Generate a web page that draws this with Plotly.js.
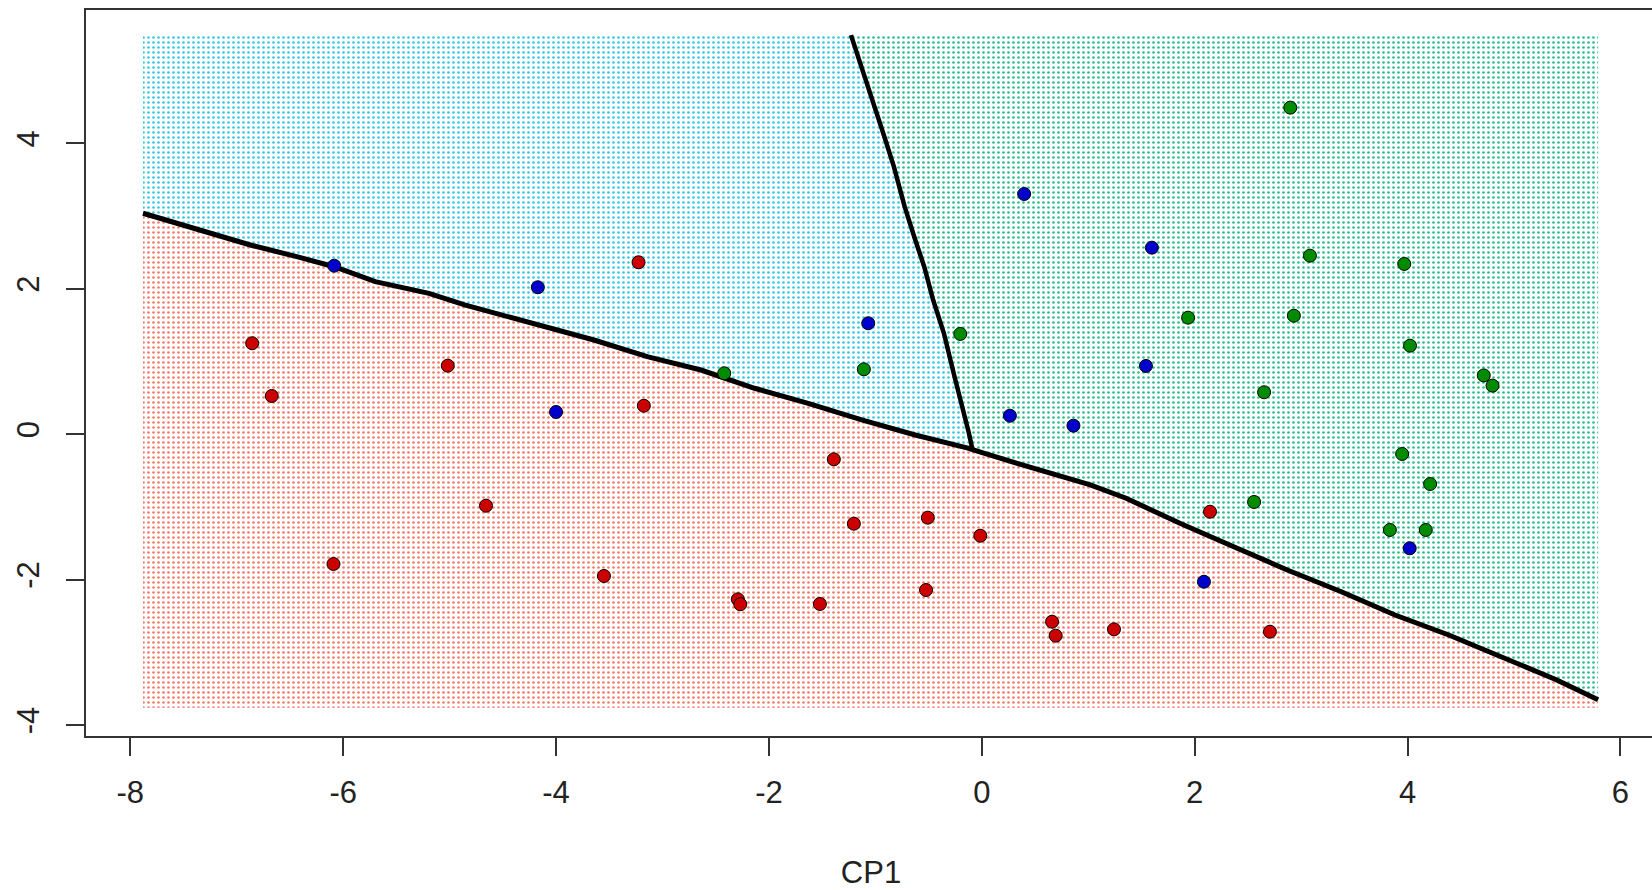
<!DOCTYPE html>
<html>
<head>
<meta charset="utf-8">
<script src="https://cdn.plot.ly/plotly-3.0.1.min.js"></script>
<style>
html,body{margin:0;padding:0;overflow:hidden;background:#ffffff;}
#chart{width:1700px;height:890px;}
</style>
</head>
<body>
<div id="chart"></div>
<script>
// ---- training points (CP1, CP2) per class ----
const redX = [-6.855, -6.671, -6.091, -5.017, -4.658, -3.550, -3.225, -3.175, -2.292, -2.269, -1.521, -1.390, -1.202, -0.524, -0.507, -0.014, 0.660, 0.694, 1.242, 2.144, 2.707];
const redY = [1.252, 0.527, -1.784, 0.944, -0.982, -1.949, 2.366, 0.393, -2.270, -2.338, -2.334, -0.344, -1.230, -2.142, -1.147, -1.395, -2.578, -2.770, -2.683, -1.065, -2.715];

const blueX = [-6.084, -4.171, -4.000, -1.067, 0.264, 0.398, 0.861, 1.542, 1.598, 2.087, 4.020];
const blueY = [2.319, 2.022, 0.307, 1.527, 0.256, 3.305, 0.118, 0.940, 2.567, -2.028, -1.568];

const greenX = [-2.420, -1.108, -0.202, 1.938, 2.558, 2.652, 2.898, 2.932, 3.083, 3.834, 3.969, 3.949, 4.023, 4.171, 4.212, 4.716, 4.798];
const greenY = [0.839, 0.894, 1.380, 1.604, -0.931, 0.578, 4.493, 1.631, 2.457, -1.316, 2.343, -0.271, 1.219, -1.316, -0.684, 0.810, 0.669];

// ---- extent of the prediction grid ----
const gridX = [-7.88, 5.79];
const gridY = [-3.76, 5.49];

// ---- decision boundary A (red region vs the rest), left to right ----
const boundAX = [-7.88, -7.342, -6.872, -6.436, -6.083, -5.698, -5.194, -4.859, -4.355, -3.960, -3.644, -3.143, -2.638, -2.135, -1.631, -1.128, -0.625, -0.121, -0.088, 0.380, 1.019, 1.356, 1.861, 2.367, 2.870, 3.378, 3.882, 4.387, 4.892, 5.397, 5.79];
const boundAY = [3.040, 2.810, 2.604, 2.443, 2.305, 2.099, 1.939, 1.779, 1.572, 1.411, 1.297, 1.067, 0.884, 0.633, 0.426, 0.197, -0.010, -0.193, -0.210, -0.422, -0.697, -0.880, -1.224, -1.546, -1.866, -2.165, -2.486, -2.761, -3.060, -3.376, -3.651];

// ---- decision boundary B (blue region vs green region), top to junction ----
const boundBX = [-1.229, -1.128, -1.028, -0.926, -0.826, -0.725, -0.625, -0.541, -0.457, -0.356, -0.256, -0.189, -0.121, -0.088];
const boundBY = [5.49, 5.056, 4.598, 4.140, 3.681, 3.131, 2.673, 2.305, 1.847, 1.389, 0.792, 0.426, 0.014, -0.210];

// ---- axis ticks ----
const xTickVals = [-8, -6, -4, -2, 0, 2, 4, 6];
const xTickText = ['-8', '-6', '-4', '-2', '0', '2', '4', '6'];
const yTickVals = [-4, -2, 0, 2, 4];
const yTickText = ['-4', '-2', '0', '2', '4'];
const xTitle = 'CP1';

// ---- build region polygons from the boundaries ----
const nA = boundAX.length;
const nB = boundBX.length;
let jIdx = 0;
for (let i = 0; i < nA; i++) {
  if (boundAX[i] === boundBX[nB - 1] && boundAY[i] === boundBY[nB - 1]) jIdx = i;
}

// red: below boundary A
const redPolyX = [gridX[0]].concat(boundAX, [gridX[1], gridX[0]]);
const redPolyY = [gridY[0]].concat(boundAY, [gridY[0], gridY[0]]);

// blue/cyan: above A, left of B
const cyanPolyX = [gridX[0]].concat(boundBX, boundAX.slice(0, jIdx).reverse());
const cyanPolyY = [gridY[1]].concat(boundBY, boundAY.slice(0, jIdx).reverse());

// green: above A, right of B
const greenPolyX = boundBX.slice(0, 1).concat([gridX[1]], boundAX.slice(jIdx).reverse(), boundBX.slice(1, nB - 1).reverse());
const greenPolyY = boundBY.slice(0, 1).concat([gridY[1]], boundAY.slice(jIdx).reverse(), boundBY.slice(1, nB - 1).reverse());

function region(xs, ys, col) {
  return {
    type: 'scatter', x: xs, y: ys, mode: 'none', fill: 'toself',
    fillcolor: 'rgba(0,0,0,0)',
    fillpattern: {shape: '.', size: 5, solidity: 0.22, fgcolor: col, bgcolor: 'rgba(255,255,255,0)', fgopacity: 0.9, fillmode: 'replace'},
    hoverinfo: 'skip', showlegend: false
  };
}

function pts(xs, ys, col) {
  return {
    type: 'scatter', x: xs, y: ys, mode: 'markers',
    marker: {size: 13, color: col, line: {color: '#000000', width: 1}},
    hoverinfo: 'skip', showlegend: false
  };
}

const traces = [
  region(redPolyX, redPolyY, '#F46A5A'),
  region(cyanPolyX, cyanPolyY, '#1CC3E2'),
  region(greenPolyX, greenPolyY, '#12B87E'),
  {type: 'scatter', x: boundAX, y: boundAY, mode: 'lines', line: {color: '#000000', width: 5}, hoverinfo: 'skip', showlegend: false},
  {type: 'scatter', x: boundBX, y: boundBY, mode: 'lines', line: {color: '#000000', width: 4.5}, hoverinfo: 'skip', showlegend: false},
  pts(redX, redY, '#CD0000'),
  pts(blueX, blueY, '#0000CD'),
  pts(greenX, greenY, '#008B00')
];

const axisCommon = {
  ticks: 'outside', ticklen: 18, tickwidth: 2, tickcolor: '#333333',
  showline: true, mirror: true, linecolor: '#333333', linewidth: 2,
  showgrid: false, zeroline: false, fixedrange: true, automargin: false,
  tickfont: {family: 'Liberation Sans, Arial, sans-serif', size: 31, color: '#222222'}
};

const layout = {
  width: 1700, height: 890,
  margin: {l: 86, r: 44, t: 10, b: 154, pad: 0},
  paper_bgcolor: '#ffffff', plot_bgcolor: '#ffffff',
  showlegend: false,
  font: {family: 'Liberation Sans, Arial, sans-serif', size: 31, color: '#222222'},
  xaxis: Object.assign({}, axisCommon, {
    range: [-8.416, 6.334], tickmode: 'array', tickvals: xTickVals, ticktext: xTickText,
    ticklabelstandoff: 10,
    title: {text: xTitle, standoff: 52, font: {family: 'Liberation Sans, Arial, sans-serif', size: 31, color: '#222222'}}
  }),
  yaxis: Object.assign({}, axisCommon, {
    range: [-4.150, 5.836], tickmode: 'array', tickvals: yTickVals, ticktext: yTickText,
    tickangle: -90, ticklabelstandoff: 15
  })
};

Plotly.newPlot('chart', traces, layout, {staticPlot: true, displayModeBar: false});
</script>
</body>
</html>
